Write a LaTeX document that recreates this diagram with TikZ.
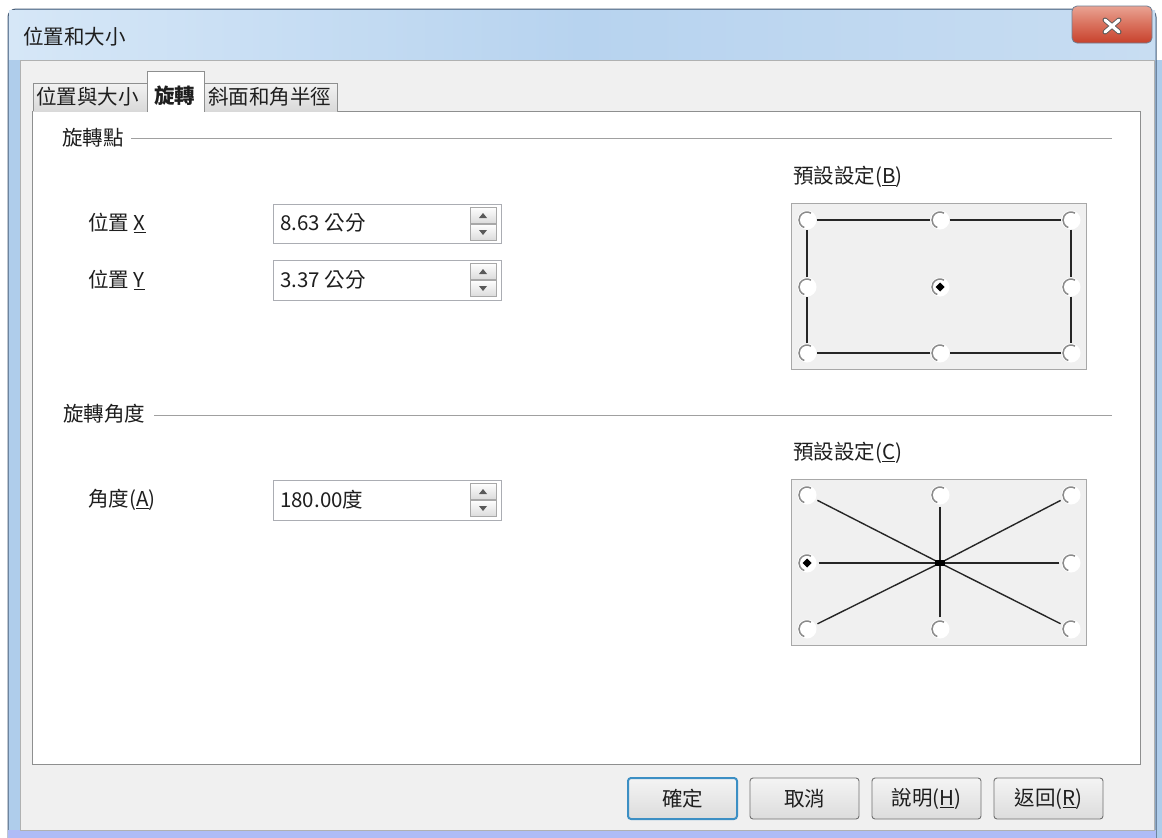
\documentclass[tikz,border=0pt]{standalone}
\usepackage{fontspec}
\setmainfont{Noto Sans CJK TC}
\definecolor{txt}{HTML}{1E1E1E}
\definecolor{clientbg}{HTML}{F0F0F0}
\definecolor{pageline}{HTML}{8E8F8F}
\definecolor{framedark}{HTML}{4A5F78}
\definecolor{frameblue}{HTML}{AFCDEB}
\definecolor{titleA}{HTML}{D6E7F7}
\definecolor{titleB}{HTML}{B7D3EF}
\definecolor{titleC}{HTML}{C8DDF2}
\definecolor{sepline}{HTML}{A0A0A0}
\definecolor{boxline}{HTML}{A8A8A8}
\definecolor{fieldline}{HTML}{ABADB3}
\definecolor{btnline}{HTML}{707070}
\definecolor{btnA}{HTML}{F4F4F4}
\definecolor{btnB}{HTML}{DCDCDC}
\definecolor{defblue}{HTML}{3C8FC4}
\definecolor{redA}{HTML}{E9A393}
\definecolor{redB}{HTML}{C7412C}
\definecolor{redC}{HTML}{D9705C}
\definecolor{tabA}{HTML}{F2F2F2}
\definecolor{tabB}{HTML}{D9D9D9}
\definecolor{arcgray}{HTML}{8A8A8A}
\definecolor{connline}{HTML}{262626}
\begin{document}
\begin{tikzpicture}[x=1pt,y=-1pt,
  every node/.style={font=\fontsize{20.5}{24}\selectfont, text=txt},
  lbl/.style={anchor=west, inner sep=0pt},
  tabbox/.style={draw=pageline, top color=tabA, bottom color=tabB, line width=0.8pt},
  field/.style={draw=fieldline, fill=white, line width=0.9pt},
  spin/.style={draw=boxline, top color=white, bottom color=btnB, line width=0.6pt},
  presetbox/.style={draw=boxline, fill=clientbg, line width=0.9pt},
  radio/.style={circle, fill=white, draw=none, minimum size=19pt, inner sep=0pt},
  radioarc/.style={draw=arcgray, line width=1.5pt},
  conn/.style={draw=connline, line width=1.7pt},
  btn/.style={draw=btnline, top color=btnA, bottom color=btnB, rounded corners=3pt, line width=0.9pt},
  defbtn/.style={draw=defblue, top color=btnA, bottom color=btnB, rounded corners=3pt, line width=2pt},
  btntext/.style={inner sep=0pt},
  sep/.style={draw=sepline, line width=1pt}
]
\useasboundingbox (0,0) rectangle (1162,838);
\fill[white] (0,0) rectangle (1162,838);
\fill[frameblue] (1156,60) rectangle (1162,838);
% window frame
\draw[framedark, fill=frameblue, rounded corners=8pt, line width=1pt] (8,860) -- (8,9) -- (1156,9) -- (1156,860);
\shade[left color=titleA, right color=titleC, middle color=titleB] (9,10) rectangle (1155,60);
\fill[frameblue] (9,60) rectangle (20,838);
\fill[frameblue] (1154,60) rectangle (1155,838);
\fill[frameblue!70!blue!60!white] (8,830) rectangle (1156,838);
% close button
\draw[framedark!80, rounded corners=5pt, top color=redA, bottom color=redB, middle color=redC, line width=0.8pt] (1072,6) rectangle (1152,43);
\draw[gray!70!black, line width=5pt, line cap=round] (1105,20) -- (1119,32) (1119,20) -- (1105,32);
\draw[white, line width=3.2pt, line cap=round] (1105,20) -- (1119,32) (1119,20) -- (1105,32);
% title
\node[lbl] (title) at (23,37) {位置和大小};
% client area
\draw[pageline!70, fill=clientbg, line width=0.8pt] (20,60) rectangle (1154,830);
% tab page
\draw[pageline, fill=white, line width=1pt] (32,111) rectangle (1140,764);
% tabs
\draw[tabbox] (33,111) -- (33,83) -- (147,83) -- (147,111);
\draw[tabbox] (204,111) -- (204,83) -- (337,83) -- (337,111);
\draw[pageline, fill=white, line width=0.8pt] (147,112) -- (147,71) -- (204,71) -- (204,112);
\fill[white] (148,109) rectangle (203,113);
\node[lbl] (tab1) at (36,97) {位置與大小};
\node[lbl] (tab2) at (154,96) {\textbf{旋轉}};
\node[lbl] (tab3) at (208,97) {斜面和角半徑};
% section 1
\node[lbl] (sec1) at (62,138) {旋轉點};
\draw[sep] (131,138) -- (1112,138);
\node[lbl] (lx) at (88,223) {位置 \underline{X}};
\draw[field] (273,204) rectangle (501,243);
\node[lbl] (vx) at (280,223) {8.63 公分};
\node[lbl] (ly) at (88,280) {位置 \underline{Y}};
\draw[field] (273,260) rectangle (501,300);
\node[lbl] (vy) at (280,280) {3.37 公分};
% section 2
\node[lbl] (sec2) at (63,414) {旋轉角度};
\draw[sep] (154,415) -- (1112,415);
\node[lbl] (la) at (88,500) {角度(\underline{A})};
\draw[field] (273,480) rectangle (501,520);
\node[lbl] (va) at (280,500) {180.00度};
% spin buttons
\foreach \t in {207,263,483}{
  \draw[spin] (470,\t) rectangle (496,\t+16);
  \draw[spin] (470,\t+17) rectangle (496,\t+33);
  \fill[gray!70!black] (479,\t+11) -- (487,\t+11) -- (483,\t+6) -- cycle;
  \fill[gray!70!black] (479,\t+23) -- (487,\t+23) -- (483,\t+28) -- cycle;
}
% preset B
\node[lbl] (pb) at (793,177) {預設設定(\underline{B})};
\draw[presetbox] (791,203) rectangle (1086,369);
\foreach \n/\px/\py in {b1/807/220, b2/940/220, b3/1071/220, b4/807/287, b5/940/287, b6/1071/287, b7/807/353, b8/940/353, b9/1071/353}{
  \node[radio] (\n) at (\px,\py) {};
}
\draw[conn] (b1) -- (b2); \draw[conn] (b2) -- (b3);
\draw[conn] (b3) -- (b6); \draw[conn] (b6) -- (b9);
\draw[conn] (b9) -- (b8); \draw[conn] (b8) -- (b7);
\draw[conn] (b7) -- (b4); \draw[conn] (b4) -- (b1);
\foreach \n in {b1,b2,b3,b4,b5,b6,b7,b8,b9}{
  \draw[radioarc] ([shift={(60:8pt)}]\n.center) arc[start angle=60, end angle=250, radius=8pt];
}
\fill[black] (b5.center) +(-4.5,0) -- +(0,-4.5) -- +(4.5,0) -- +(0,4.5) -- cycle;
% preset C
\node[lbl] (pc) at (793,453) {預設設定(\underline{C})};
\draw[presetbox] (791,479) rectangle (1086,645);
\foreach \n/\px/\py in {c1/807/495, c2/940/495, c3/1071/495, c4/807/563, c6/1071/563, c7/807/629, c8/940/629, c9/1071/629}{
  \node[radio] (\n) at (\px,\py) {};
}
\coordinate (c5) at (940,563);
\foreach \n in {c1,c2,c3,c4,c6,c7,c8,c9}{
  \draw[conn, line width=1.4pt, shorten <=2pt] (\n) -- (c5);
}
\foreach \n in {c1,c2,c3,c4,c6,c7,c8,c9}{
  \draw[radioarc] ([shift={(60:8pt)}]\n.center) arc[start angle=60, end angle=250, radius=8pt];
}
\fill[black] (c5) +(-5,-3) rectangle +(5,3);
\fill[black] (c4.center) +(-4.5,0) -- +(0,-4.5) -- +(4.5,0) -- +(0,4.5) -- cycle;
% buttons
\draw[defbtn] (628,778) rectangle (737,819);
\node[btntext] (ok) at (682.5,799) {確定};
\draw[btn] (750,778) rectangle (859,819);
\node[btntext] (cancel) at (804.5,799) {取消};
\draw[btn] (872,778) rectangle (981,819);
\node[btntext] (help) at (926.5,799) {說明(\underline{H})};
\draw[btn] (994,778) rectangle (1103,819);
\node[btntext] (reset) at (1048.5,799) {返回(\underline{R})};
\end{tikzpicture}
\end{document}
